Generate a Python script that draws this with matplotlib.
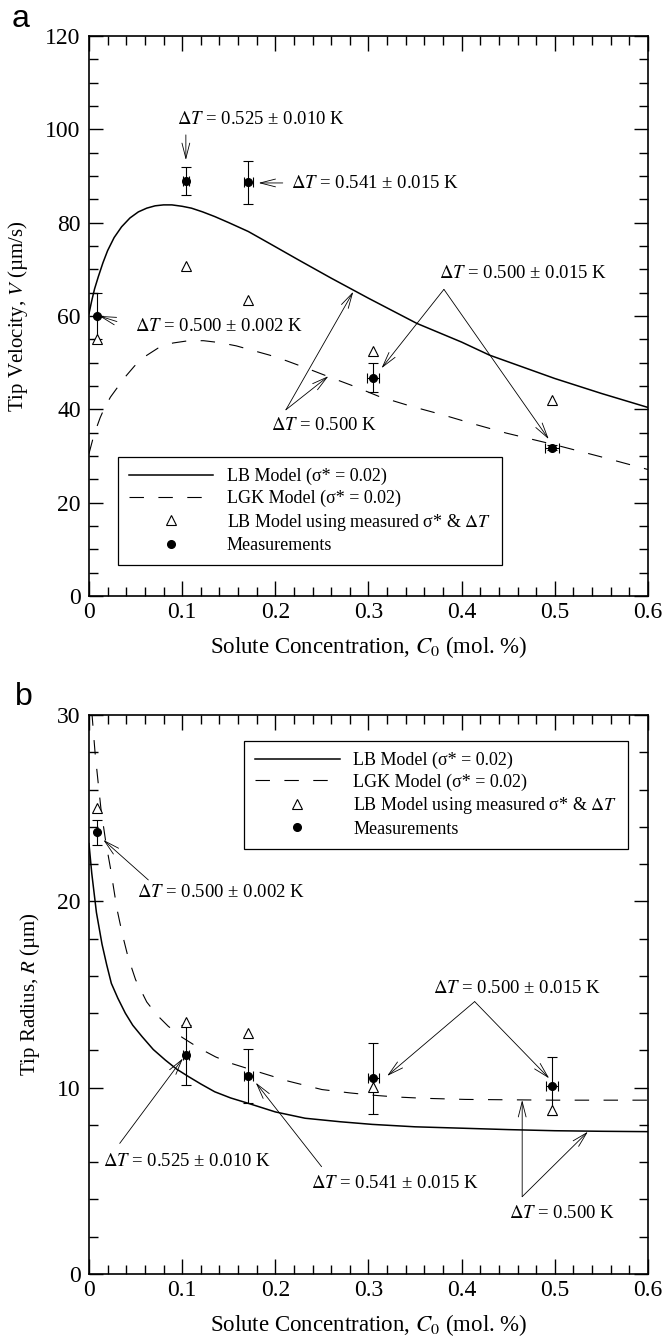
import numpy as np
import matplotlib
matplotlib.use("Agg")
from matplotlib import pyplot as plt
from matplotlib.ticker import MultipleLocator, FuncFormatter

plt.rcParams['font.family'] = ['Liberation Serif', 'DejaVu Serif']
plt.rcParams['mathtext.fontset'] = 'stix'

# ---- panel a: tip velocity ----
lb_v_c = [0, 0.003, 0.006, 0.01, 0.015, 0.02, 0.027, 0.035, 0.044, 0.053, 0.062,
          0.071, 0.08, 0.089, 0.1, 0.11, 0.122, 0.135, 0.15, 0.171, 0.195, 0.225,
          0.26, 0.3, 0.352, 0.4, 0.43, 0.5, 0.55, 0.6]
lb_v = [60.5, 63.3, 65.8, 68.4, 71.4, 74.0, 76.8, 79.1, 81.0, 82.3, 83.1,
        83.6, 83.8, 83.8, 83.5, 83.1, 82.3, 81.3, 80.0, 78.1, 75.4, 72.0,
        68.1, 63.8, 58.4, 54.4, 51.6, 46.6, 43.4, 40.4]
lgk_v_c = [0, 0.004, 0.008, 0.012, 0.016, 0.023, 0.031, 0.04, 0.049, 0.06, 0.074,
           0.09, 0.107, 0.123, 0.14, 0.158, 0.176, 0.194, 0.212, 0.235, 0.257,
           0.285, 0.312, 0.345, 0.38, 0.414, 0.448, 0.5, 0.55, 0.6]
lgk_v = [30.5, 33.5, 36, 38.2, 40, 42.6, 44.8, 47.2, 49.3, 51.3, 53.1,
         54.2, 54.7, 54.7, 54.3, 53.6, 52.6, 51.6, 50.4, 48.7, 47.0,
         44.9, 42.7, 40.7, 38.8, 36.8, 34.9, 32.4, 29.8, 27.1]

meas_c = [0.009, 0.104, 0.171, 0.305, 0.497]
meas_c_err = [0.0, 0.003, 0.005, 0.0063, 0.007]
meas_v = [60.0, 89.0, 88.6, 46.8, 31.8]
meas_v_err = [5.0, 3.0, 4.7, 3.05, 0.5]
tri_v = [55.1, 70.6, 63.4, 52.6, 42.0]

# ---- panel b: tip radius ----
lb_r_c = [0, 0.003, 0.008, 0.014, 0.019, 0.024, 0.031, 0.039, 0.047, 0.057, 0.069,
          0.082, 0.094, 0.107, 0.12, 0.135, 0.152, 0.171, 0.2, 0.232, 0.27, 0.304,
          0.35, 0.404, 0.45, 0.5, 0.55, 0.6]
lb_r = [23.1, 21.5, 19.4, 17.7, 16.6, 15.6, 14.8, 14.0, 13.35, 12.74, 12.05,
        11.48, 11.0, 10.59, 10.2, 9.78, 9.45, 9.16, 8.7, 8.36, 8.17, 8.03,
        7.9, 7.82, 7.75, 7.69, 7.66, 7.64]
lgk_r_c = [0.003, 0.0065, 0.01, 0.013, 0.018, 0.023, 0.03, 0.036, 0.042, 0.05, 0.062,
           0.073, 0.085, 0.1, 0.119, 0.136, 0.153, 0.181, 0.214, 0.25, 0.28, 0.304,
           0.33, 0.36, 0.404, 0.45, 0.5, 0.6]
lgk_r = [30.2, 28.0, 26.3, 24.9, 23.2, 21.8, 19.6, 18.2, 17.0, 15.8, 14.6,
         13.9, 13.3, 12.7, 12.1, 11.65, 11.3, 10.86, 10.35, 9.9, 9.72, 9.6,
         9.5, 9.43, 9.37, 9.35, 9.33, 9.33]

meas_r_c_err = [0.0, 0.003, 0.005, 0.006, 0.006]
meas_r = [23.7, 11.74, 10.63, 10.5, 10.09]
meas_r_err = [0.65, 1.6, 1.45, 1.9, 1.55]
tri_r = [25.0, 13.5, 12.95, 10.02, 8.8]

lbl_lb = 'LB Model (σ* = 0.02)'
lbl_lgk = 'LGK Model (σ* = 0.02)'
lbl_tri = r'LB Model using measured σ* & $\Delta T$'
lbl_meas = 'Measurements'

TXT = 13.5
AP = dict(arrowstyle='->,head_length=1.1,head_width=0.28', lw=0.6,
          color='black', shrinkA=0, shrinkB=0, mutation_scale=10)


def arrows(ax, tail, tips):
    for tip in tips:
        ax.annotate('', xy=tip, xytext=tail, arrowprops=AP)


def style_axes(ax, ymax, ymajor, yminor):
    ax.set_xlim(0, 0.6)
    ax.set_ylim(0, ymax)
    ax.xaxis.set_major_locator(MultipleLocator(0.1))
    ax.xaxis.set_minor_locator(MultipleLocator(0.02))
    ax.yaxis.set_major_locator(MultipleLocator(ymajor))
    ax.yaxis.set_minor_locator(MultipleLocator(yminor))
    ax.xaxis.set_major_formatter(FuncFormatter(lambda v, p: '0' if abs(v) < 1e-9 else f'{v:.1f}'))
    ax.tick_params(which='both', direction='in', top=True, right=True, width=1.0,
                   labelsize=17)
    ax.tick_params(axis='x', which='major', length=11, pad=4)
    ax.tick_params(axis='x', which='minor', length=6.5)
    ax.tick_params(axis='y', which='major', length=10, pad=6)
    ax.tick_params(axis='y', which='minor', length=6.5)
    for s in ax.spines.values():
        s.set_linewidth(1.2)
    ax.set_xlabel('Solute Concentration, $C_0$ (mol. %)', fontsize=16.5, labelpad=8)


def draw_data(ax, lb_c, lb, lgk_c, lgk, ym, yerr, xerr, tri):
    ax.plot(lb_c, lb, color='black', lw=1.1, label=lbl_lb)
    ax.plot(lgk_c, lgk, color='black', lw=0.8, linestyle=(0, (13, 13)), label=lbl_lgk)
    ax.errorbar(meas_c, ym, yerr=yerr, xerr=xerr, fmt='none', ecolor='black',
                elinewidth=0.8, capsize=3.5, capthick=0.8)
    ax.plot(meas_c, tri, linestyle='none', marker='^', markersize=7.5,
            markerfacecolor='white', markeredgecolor='black', markeredgewidth=0.8,
            label=lbl_tri)
    ax.plot(meas_c, ym, linestyle='none', marker='o', markersize=5.5,
            color='black', label=lbl_meas)


def add_legend(ax, loc, anchor):
    leg = ax.legend(loc=loc, bbox_to_anchor=anchor, fontsize=13,
                    frameon=True, fancybox=False, edgecolor='black', framealpha=1,
                    handlelength=4.7, handletextpad=0.75, labelspacing=0.25,
                    borderpad=0.6, borderaxespad=0)
    leg.get_frame().set_linewidth(0.9)


fig = plt.figure(figsize=(6.63, 13.36), dpi=100)
ax1 = fig.add_axes([0.1342, 0.5539, 0.8431, 0.4192])
ax2 = fig.add_axes([0.1342, 0.0464, 0.8431, 0.4184])

# panel a
draw_data(ax1, lb_v_c, lb_v, lgk_v_c, lgk_v, meas_v, meas_v_err, meas_c_err, tri_v)
style_axes(ax1, 120, 20, 5)
ax1.set_ylabel('Tip Velocity, $V$ (µm/s)', fontsize=15, labelpad=11)

ax1.text(0.185, 102, r'$\Delta T$ = 0.525 ± 0.010 K', fontsize=TXT, ha='center', va='center')
arrows(ax1, (0.104, 98.8), [(0.104, 93.4)])
ax1.text(0.217, 88.4, r'$\Delta T$ = 0.541 ± 0.015 K', fontsize=TXT, ha='left', va='center')
arrows(ax1, (0.208, 88.5), [(0.182, 88.5)])
ax1.text(0.14, 57.7, r'$\Delta T$ = 0.500 ± 0.002 K', fontsize=TXT, ha='center', va='center')
arrows(ax1, (0.030, 58.8), [(0.011, 60.0)])
ax1.text(0.466, 69.0, r'$\Delta T$ = 0.500 ± 0.015 K', fontsize=TXT, ha='center', va='center')
arrows(ax1, (0.381, 65.7), [(0.314, 48.8), (0.4935, 33.6)])
ax1.text(0.2525, 36.6, r'$\Delta T$ = 0.500 K', fontsize=TXT, ha='center', va='center')
arrows(ax1, (0.2114, 39.9), [(0.2837, 65.2), (0.257, 47.1)])

add_legend(ax1, 'lower left', (0.0515, 0.0553))

# panel b
draw_data(ax2, lb_r_c, lb_r, lgk_r_c, lgk_r, meas_r, meas_r_err, meas_r_c_err, tri_r)
style_axes(ax2, 30, 10, 2)
ax2.set_ylabel('Tip Radius, $R$ (µm)', fontsize=15, labelpad=11)

ax2.text(0.142, 20.47, r'$\Delta T$ = 0.500 ± 0.002 K', fontsize=TXT, ha='center', va='center')
arrows(ax2, (0.0637, 21.15), [(0.0154, 23.3)])
ax2.text(0.1055, 6.03, r'$\Delta T$ = 0.525 ± 0.010 K', fontsize=TXT, ha='center', va='center')
arrows(ax2, (0.033, 7.01), [(0.1008, 11.57)])
ax2.text(0.329, 4.87, r'$\Delta T$ = 0.541 ± 0.015 K', fontsize=TXT, ha='center', va='center')
arrows(ax2, (0.2497, 5.76), [(0.179, 10.27)])
ax2.text(0.4596, 15.33, r'$\Delta T$ = 0.500 ± 0.015 K', fontsize=TXT, ha='center', va='center')
arrows(ax2, (0.414, 14.62), [(0.32, 10.63), (0.494, 10.5)])
ax2.text(0.508, 3.26, r'$\Delta T$ = 0.500 K', fontsize=TXT, ha='center', va='center')
arrows(ax2, (0.465, 4.15), [(0.465, 9.34), (0.5356, 7.64)])

add_legend(ax2, 'upper right', (0.9645, 0.954))

fig.text(0.018, 0.980, 'a', fontsize=23, family='Liberation Sans')
fig.text(0.022, 0.4723, 'b', fontsize=23, family='Liberation Sans')

fig.savefig('out.png', dpi=100)
